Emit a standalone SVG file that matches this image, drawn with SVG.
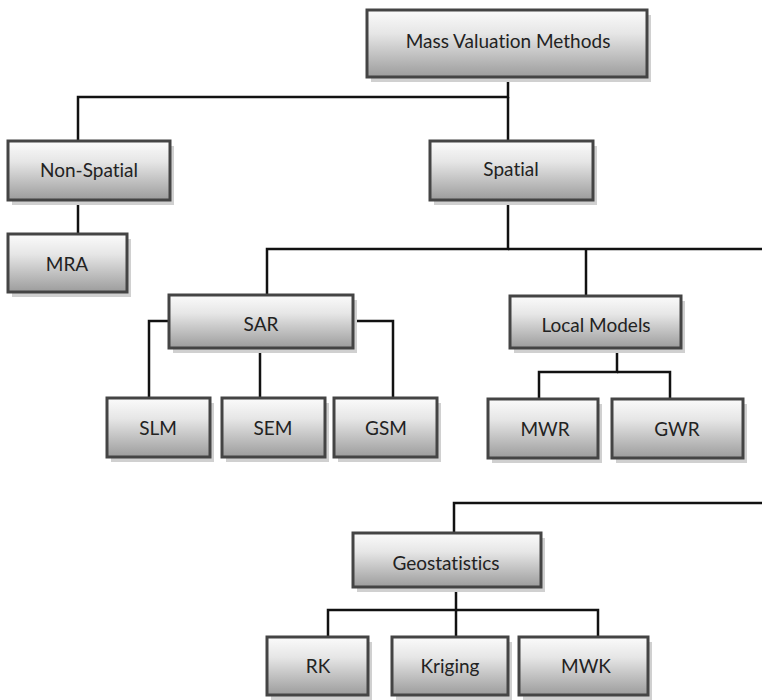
<svg xmlns="http://www.w3.org/2000/svg" width="762" height="700" viewBox="0 0 762 700">
<defs>
<linearGradient id="g" x1="0" y1="0" x2="0" y2="1">
<stop offset="0" stop-color="#fbfbfb"/>
<stop offset="0.35" stop-color="#e6e6e6"/>
<stop offset="1" stop-color="#9c9c9c"/>
</linearGradient>
</defs>
<style>
.sh{fill:#d0d0d0}
.bx{fill:url(#g);stroke:#444;stroke-width:3}
.t{font-family:Lato,"Open Sans",sans-serif;font-size:19px;fill:#222;text-anchor:middle;dominant-baseline:central;font-variant-ligatures:none;font-feature-settings:"liga" 0,"dlig" 0}
.c{fill:none;stroke:#111;stroke-width:2.5}
</style>
<rect width="762" height="700" fill="#fff"/>
<g id="connectors">
<polyline class="c" points="508,77 508,97 78,97 78,141"/>
<line class="c" x1="508" y1="97" x2="508" y2="141"/>
<line class="c" x1="78" y1="200" x2="78" y2="234"/>
<polyline class="c" points="508,200 508,249 267,249 267,295"/>
<line class="c" x1="508" y1="249" x2="762" y2="249"/>
<line class="c" x1="586" y1="249" x2="586" y2="296"/>
<polyline class="c" points="169,321 149,321 149,398"/>
<line class="c" x1="260" y1="348" x2="260" y2="398"/>
<polyline class="c" points="353,321 393,321 393,398"/>
<polyline class="c" points="617,348 617,372 539,372 539,399"/>
<polyline class="c" points="617,372 670,372 670,399"/>
<polyline class="c" points="762,503 454,503 454,533"/>
<polyline class="c" points="456,587 456,610 328,610 328,637"/>
<line class="c" x1="456" y1="610" x2="456" y2="637"/>
<polyline class="c" points="456,610 598,610 598,637"/>
</g>
<g id="mass">
<rect class="sh" x="371" y="15" width="280" height="67"/>
<rect class="bx" x="367" y="10" width="280" height="67"/>
<text class="t" x="508" y="40">Mass Valuation Methods</text>
</g>
<g id="nonspatial">
<rect class="sh" x="12" y="146" width="162" height="59"/>
<rect class="bx" x="8" y="141" width="162" height="59"/>
<text class="t" x="89" y="169">Non-Spatial</text>
</g>
<g id="mra">
<rect class="sh" x="12" y="239" width="119" height="58"/>
<rect class="bx" x="8" y="234" width="119" height="58"/>
<text class="t" x="67" y="263">MRA</text>
</g>
<g id="spatial">
<rect class="sh" x="434" y="146" width="163" height="59"/>
<rect class="bx" x="430" y="141" width="163" height="59"/>
<text class="t" x="511" y="168">Spatial</text>
</g>
<g id="sar">
<rect class="sh" x="173" y="300" width="184" height="53"/>
<rect class="bx" x="169" y="295" width="184" height="53"/>
<text class="t" x="261" y="323">SAR</text>
</g>
<g id="localmodels">
<rect class="sh" x="514" y="301" width="171" height="52"/>
<rect class="bx" x="510" y="296" width="171" height="52"/>
<text class="t" x="596" y="324">Local Models</text>
</g>
<g id="slm">
<rect class="sh" x="111" y="403" width="103" height="59"/>
<rect class="bx" x="107" y="398" width="103" height="59"/>
<text class="t" x="158" y="427">SLM</text>
</g>
<g id="sem">
<rect class="sh" x="226" y="403" width="103" height="59"/>
<rect class="bx" x="222" y="398" width="103" height="59"/>
<text class="t" x="273" y="427">SEM</text>
</g>
<g id="gsm">
<rect class="sh" x="338" y="403" width="103" height="59"/>
<rect class="bx" x="334" y="398" width="103" height="59"/>
<text class="t" x="386" y="427">GSM</text>
</g>
<g id="mwr">
<rect class="sh" x="492" y="404" width="110" height="59"/>
<rect class="bx" x="488" y="399" width="110" height="59"/>
<text class="t" x="545" y="428">MWR</text>
</g>
<g id="gwr">
<rect class="sh" x="616" y="404" width="131" height="59"/>
<rect class="bx" x="612" y="399" width="131" height="59"/>
<text class="t" x="677" y="428">GWR</text>
</g>
<g id="geostatistics">
<rect class="sh" x="357" y="538" width="188" height="54"/>
<rect class="bx" x="353" y="533" width="188" height="54"/>
<text class="t" x="446" y="562">Geostatistics</text>
</g>
<g id="rk">
<rect class="sh" x="271" y="642" width="101" height="58"/>
<rect class="bx" x="267" y="637" width="101" height="58"/>
<text class="t" x="318" y="665">RK</text>
</g>
<g id="kriging">
<rect class="sh" x="396" y="642" width="116" height="58"/>
<rect class="bx" x="392" y="637" width="116" height="58"/>
<text class="t" x="450" y="665">Kriging</text>
</g>
<g id="mwk">
<rect class="sh" x="523" y="642" width="129" height="58"/>
<rect class="bx" x="519" y="637" width="129" height="58"/>
<text class="t" x="586" y="665">MWK</text>
</g>
</svg>
